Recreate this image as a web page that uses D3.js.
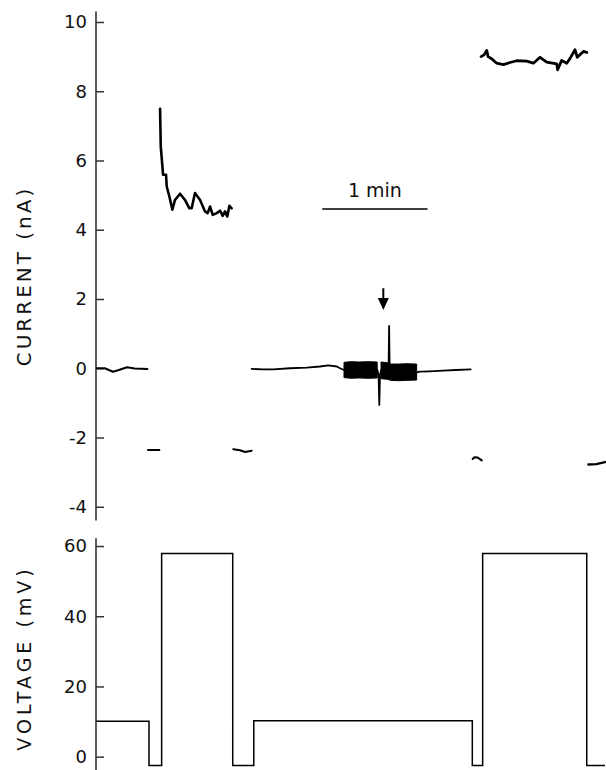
<!DOCTYPE html>
<html>
<head>
<meta charset="utf-8">
<script src="https://cdn.jsdelivr.net/npm/d3@7"></script>
<style>
  html, body { margin: 0; padding: 0; background: #fff; }
  svg { display: block; }
  text { font-family: "DejaVu Sans", sans-serif; fill: #111; }
</style>
</head>
<body>
<svg id="chart" width="606" height="770"></svg>
<script>
// ---------- data (time in s, current in nA, voltage in mV) ----------
const currentTicks = [-4, -2, 0, 2, 4, 6, 8, 10];
const voltageTicks = [0, 20, 40, 60];
const currentLabel = "CURRENT (nA)";
const voltageLabel = "VOLTAGE (mV)";
const scaleBarLabel = "1 min";
const scaleBarSeconds = 60;
const scaleBarStart = 128.9;
const arrowTime = 163.7;
const arrowFrom = 2.31;
const arrowTo = 1.68;

const trace1 = [[0.4,0.0],[5,0.0],[9.7,-0.1],[13,-0.05],[17.7,0.03],[22,-0.01],[29.3,-0.02]];
const trace2 = [[29.6,-2.36],[36.1,-2.36]];
const trace3 = [[36.5,7.49],[36.9,6.40],[38.0,5.73],[38.2,5.59],[39.9,5.59],[40.3,5.25],[41.8,4.96],
  [43.5,4.58],[45.0,4.86],[47.9,5.04],[50.7,4.86],[53.2,4.62],[54.5,4.62],[56.4,5.06],[59.3,4.86],
  [62.1,4.53],[63.6,4.48],[65.0,4.67],[66.5,4.43],[68.8,4.48],[70.7,4.55],[72.2,4.40],[73.5,4.53],
  [74.8,4.38],[76.0,4.69],[77.3,4.62]];
const trace4 = [[78.2,-2.34],[82,-2.37],[85,-2.42],[88.7,-2.38]];
const trace5 = [[88.7,-0.02],[95,-0.03],[101,-0.03],[110.5,0.0],[120.1,0.02],[127.6,0.05],[132.4,0.08],
  [137.2,0.05],[139,0.0],[141.3,-0.05],[160.3,-0.05],[161.0,-0.2],[161.4,-1.06],[161.8,-0.2],[162.5,-0.05],
  [166.7,0.05],[167.0,1.22],[167.3,0.05],[172,-0.12],[182.7,-0.12],[184.6,-0.1],[190,-0.09],[197.9,-0.07],
  [205,-0.05],[213.5,-0.03]];
const band5a = [[141.3,0.17,-0.27],[145,0.19,-0.29],[150,0.18,-0.28],[155,0.19,-0.29],[160.2,0.18,-0.28]];
const band5b = [[162.4,0.18,-0.30],[166,0.16,-0.32],[168,0.12,-0.35],[172,0.12,-0.36],[177,0.13,-0.35],[182.7,0.12,-0.34]];
const trace6 = [[214.6,-2.62],[215.6,-2.57],[217.5,-2.58],[219.8,-2.66]];
const trace7 = [[219.4,9.0],[221.1,9.05],[222.6,9.18],[223.4,9.0],[225.6,8.93],[228.3,8.81],[232.1,8.77],
  [235.9,8.83],[239.7,8.88],[245.4,8.87],[249.2,8.81],[253.0,8.98],[256.8,8.84],[262.5,8.79],[263.0,8.62],
  [265.3,8.89],[268.2,8.81],[270.1,8.95],[272.9,9.2],[274.2,8.98],[277.7,9.15],[279.6,9.12]];
const trace8 = [[280.5,-2.78],[285,-2.77],[290,-2.71]];

const voltage = [[0,10.1],[30.2,-2.5],[37.4,57.9],[77.9,-2.5],[89.9,10.2],[214.4,-2.5],[220.3,57.9],[279.6,-2.5],[290,-2.5]];

// ---------- scales ----------
const svg = d3.select("#chart");
const x = d3.scaleLinear().domain([0, 290]).range([96, 605]);
const yI = d3.scaleLinear().domain([-4.4, 10.3]).range([520.6, 11.6]);
const yV = d3.scaleLinear().domain([-3.8, 62.2]).range([770, 538.3]);

// ---------- axes ----------
function drawAxis(scale, ticks, fmt) {
  const g = svg.append("g").attr("transform", "translate(96,0)");
  g.append("line")
    .attr("x1", 0).attr("x2", 0)
    .attr("y1", scale.range()[1]).attr("y2", scale.range()[0])
    .attr("stroke", "#333").attr("stroke-width", 1.6);
  const ax = d3.axisLeft(scale).tickValues(ticks).tickSize(-8).tickPadding(9).tickFormat(fmt);
  g.append("g").call(ax).call(s => {
    s.select(".domain").remove();
    s.selectAll(".tick line").attr("stroke", "#333").attr("stroke-width", 1.5);
    s.selectAll(".tick text").attr("font-family", "DejaVu Sans, sans-serif")
      .attr("font-size", 18).attr("fill", "#111");
  });
}
drawAxis(yI, currentTicks, d => d < 0 ? "-" + Math.abs(d) : String(d));
drawAxis(yV, voltageTicks, d => String(d));

svg.append("text")
  .attr("transform", "translate(31,276) rotate(-90)")
  .attr("text-anchor", "middle")
  .attr("font-size", 20).attr("letter-spacing", 3)
  .text(currentLabel);
svg.append("text")
  .attr("transform", "translate(31,658) rotate(-90)")
  .attr("text-anchor", "middle")
  .attr("font-size", 19).attr("letter-spacing", 4)
  .text(voltageLabel);

// ---------- traces ----------
const line = d3.line().x(d => x(d[0])).y(d => yI(d[1]));
const area = d3.area().x(d => x(d[0])).y0(d => yI(d[2])).y1(d => yI(d[1]));

[[trace1, 2], [trace2, 2], [trace3, 2.6], [trace4, 2], [trace5, 1.8], [trace6, 2], [trace7, 2.8], [trace8, 2.4]]
  .forEach(([data, w]) => {
    svg.append("path").attr("d", line(data))
      .attr("fill", "none").attr("stroke", "#000").attr("stroke-width", w)
      .attr("stroke-linejoin", "round").attr("stroke-linecap", "round");
  });
[band5a, band5b].forEach(b => {
  svg.append("path").attr("d", area(b)).attr("fill", "#000").attr("stroke", "#000").attr("stroke-width", 1);
});

// voltage
const vline = d3.line().x(d => x(d[0])).y(d => yV(d[1])).curve(d3.curveStepAfter);
svg.append("path").attr("d", vline(voltage))
  .attr("fill", "none").attr("stroke", "#000").attr("stroke-width", 1.5);

// ---------- scale bar ----------
const sbY = 209;
svg.append("line")
  .attr("x1", x(scaleBarStart)).attr("x2", x(scaleBarStart + scaleBarSeconds))
  .attr("y1", sbY).attr("y2", sbY)
  .attr("stroke", "#000").attr("stroke-width", 1.5);
svg.append("text")
  .attr("x", x(scaleBarStart + scaleBarSeconds / 2)).attr("y", 197)
  .attr("text-anchor", "middle")
  .attr("font-family", "Liberation Sans, sans-serif")
  .attr("font-size", 19)
  .text(scaleBarLabel);

// ---------- arrow ----------
const ax0 = x(arrowTime), ay0 = yI(arrowFrom), ay1 = yI(arrowTo);
svg.append("line").attr("x1", ax0).attr("x2", ax0).attr("y1", ay0).attr("y2", ay1 - 8)
  .attr("stroke", "#000").attr("stroke-width", 2);
svg.append("path")
  .attr("d", `M${ax0 - 5.5},${ay1 - 12} L${ax0 + 5.5},${ay1 - 12} L${ax0},${ay1} Z`)
  .attr("fill", "#000");
</script>
</body>
</html>
